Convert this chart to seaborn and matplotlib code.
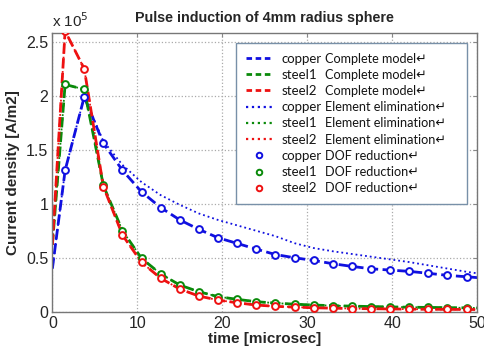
import matplotlib
matplotlib.use('Agg')
import matplotlib.pyplot as plt
from matplotlib.lines import Line2D
import seaborn as sns
import pandas as pd

# time points [microsec]
t_line = [0, 1.5, 3.75, 6, 8.25, 10.5, 12.75, 15, 17.25, 19.5, 21.75, 24, 26.25,
          28.5, 30.75, 33, 35.25, 37.5, 39.75, 42, 44.25, 46.5, 48.75, 51]

# current density, units of 1e5 A/m2
copper_complete = [0.40, 1.31, 1.99, 1.56, 1.31, 1.11, 0.965, 0.85, 0.763, 0.685, 0.633, 0.58,
                   0.53, 0.50, 0.475, 0.445, 0.42, 0.398, 0.386, 0.374, 0.356, 0.337, 0.324, 0.31]
steel1_complete = [0.62, 2.105, 2.06, 1.17, 0.75, 0.494, 0.35, 0.247, 0.185, 0.14, 0.115, 0.093,
                   0.08, 0.07, 0.062, 0.056, 0.052, 0.048, 0.045, 0.042, 0.040, 0.038, 0.036, 0.034]
steel2_complete = [0.62, 2.60, 2.25, 1.16, 0.71, 0.457, 0.31, 0.21, 0.145, 0.108, 0.083, 0.062,
                   0.05, 0.043, 0.037, 0.033, 0.030, 0.028, 0.026, 0.024, 0.023, 0.022, 0.021, 0.020]

copper_elim = [0.40, 1.31, 1.99, 1.58, 1.36, 1.20, 1.08, 0.99, 0.91, 0.85, 0.80, 0.75,
               0.70, 0.635, 0.59, 0.56, 0.535, 0.51, 0.485, 0.46, 0.43, 0.40, 0.37, 0.345]
steel1_elim = steel1_complete
steel2_elim = steel2_complete

# DOF reduction samples (markers)
t_dof = t_line[1:-1]
copper_dof = copper_complete[1:-1]
steel1_dof = steel1_complete[1:-1]
steel2_dof = steel2_complete[1:-1]

materials = ['copper', 'steel1', 'steel2']
colors = {'copper': '#1010e0', 'steel1': '#0a8a0a', 'steel2': '#ee1111'}

sns.set_style('white')
plt.rcParams['font.family'] = ['Liberation Sans', 'DejaVu Sans']

fig = plt.figure(figsize=(4.85, 3.46), dpi=100)
ax = fig.add_axes([0.108, 0.099, 0.876, 0.805])

complete = dict(zip(materials, [copper_complete, steel1_complete, steel2_complete]))
elim = dict(zip(materials, [copper_elim, steel1_elim, steel2_elim]))
dof = dict(zip(materials, [copper_dof, steel1_dof, steel2_dof]))

for m in materials:
    sns.lineplot(x=t_line, y=elim[m], ax=ax, color=colors[m], linestyle=':', linewidth=1.3)
for m in materials:
    sns.lineplot(x=t_line, y=complete[m], ax=ax, color=colors[m], linestyle='--',
                 linewidth=2.0, dashes=(3, 1.6))
for m in materials:
    df = pd.DataFrame({'t': t_dof, 'j': dof[m]})
    sns.scatterplot(data=df, x='t', y='j', ax=ax, marker='o', s=24, facecolor='white',
                    edgecolor=colors[m], linewidth=1.4, zorder=5)

ax.set_xlim(0, 50)
ax.set_ylim(0, 2.58)
ax.set_xticks([0, 10, 20, 30, 40, 50])
ax.set_yticks([0, 0.5, 1, 1.5, 2, 2.5])
ax.set_yticklabels(['0', '0.5', '1', '1.5', '2', '2.5'])
ax.tick_params(direction='in', length=3, labelsize=11.5, top=True, right=True,
               color='#888888', pad=3)
ax.grid(True, linestyle=':', color='#aaaaaa', linewidth=0.9)
for s in ax.spines.values():
    s.set_color('#777777')
    s.set_linewidth(1.0)

ax.set_xlabel('time [microsec]', fontsize=11, fontweight='bold', labelpad=1)
ax.set_ylabel('Current density [A/m2]', fontsize=11, fontweight='bold', labelpad=4)
ax.set_title('Pulse induction of 4mm radius sphere', fontsize=10.3, fontweight='bold', pad=8)
ax.text(0.0, 1.012, r'x 10$^5$', transform=ax.transAxes, fontsize=11, va='bottom', ha='left')

# legend: material names in the legend, descriptions aligned in a second column
handles = []
row_names = []
row_desc = []
for m in materials:
    handles.append(Line2D([], [], color=colors[m], linestyle='--', linewidth=2, dashes=(2, 1.3)))
    row_names.append(m)
    row_desc.append('Complete model\u21b5')
for m in materials:
    handles.append(Line2D([], [], color=colors[m], linestyle=':', linewidth=1.6))
    row_names.append(m)
    row_desc.append('Element elimination\u21b5')
for m in materials:
    handles.append(Line2D([], [], color=colors[m], linestyle='', marker='o', markersize=4,
                          markerfacecolor='white', markeredgewidth=1.4))
    row_names.append(m)
    row_desc.append('DOF reduction\u21b5')

leg_family = ['Lato', 'DejaVu Sans']
leg = ax.legend(handles, row_names, loc='upper left', bbox_to_anchor=(0.433, 0.966),
                prop={'family': leg_family, 'size': 9.5}, labelspacing=0.32,
                handlelength=2.0, handletextpad=0.7, borderpad=0.75, frameon=False,
                borderaxespad=0)
leg.set_zorder(7)
for txt in leg.get_texts():
    txt.set_color('#151515')

fig.canvas.draw()
to_ax = ax.transAxes.inverted()
leg_bb = leg.get_window_extent()
x_desc_px = 325
for txt, desc in zip(leg.get_texts(), row_desc):
    bb = txt.get_window_extent()
    xa, ya = to_ax.transform((x_desc_px, bb.y0 + 0.5 * bb.height))
    ax.text(xa, ya, desc, transform=ax.transAxes, fontsize=9.1, family=leg_family,
            color='#151515', va='center', ha='left', zorder=8)

# legend box, wide enough for both text columns
x0a, y0a = to_ax.transform((leg_bb.x0, leg_bb.y0))
x1a, y1a = to_ax.transform((467, leg_bb.y1))
ax.add_patch(plt.Rectangle((x0a, y0a), x1a - x0a, y1a - y0a, transform=ax.transAxes,
                           facecolor='white', edgecolor='#7890a8', linewidth=1.0,
                           zorder=6, clip_on=False))

fig.savefig('out.png', dpi=100)
